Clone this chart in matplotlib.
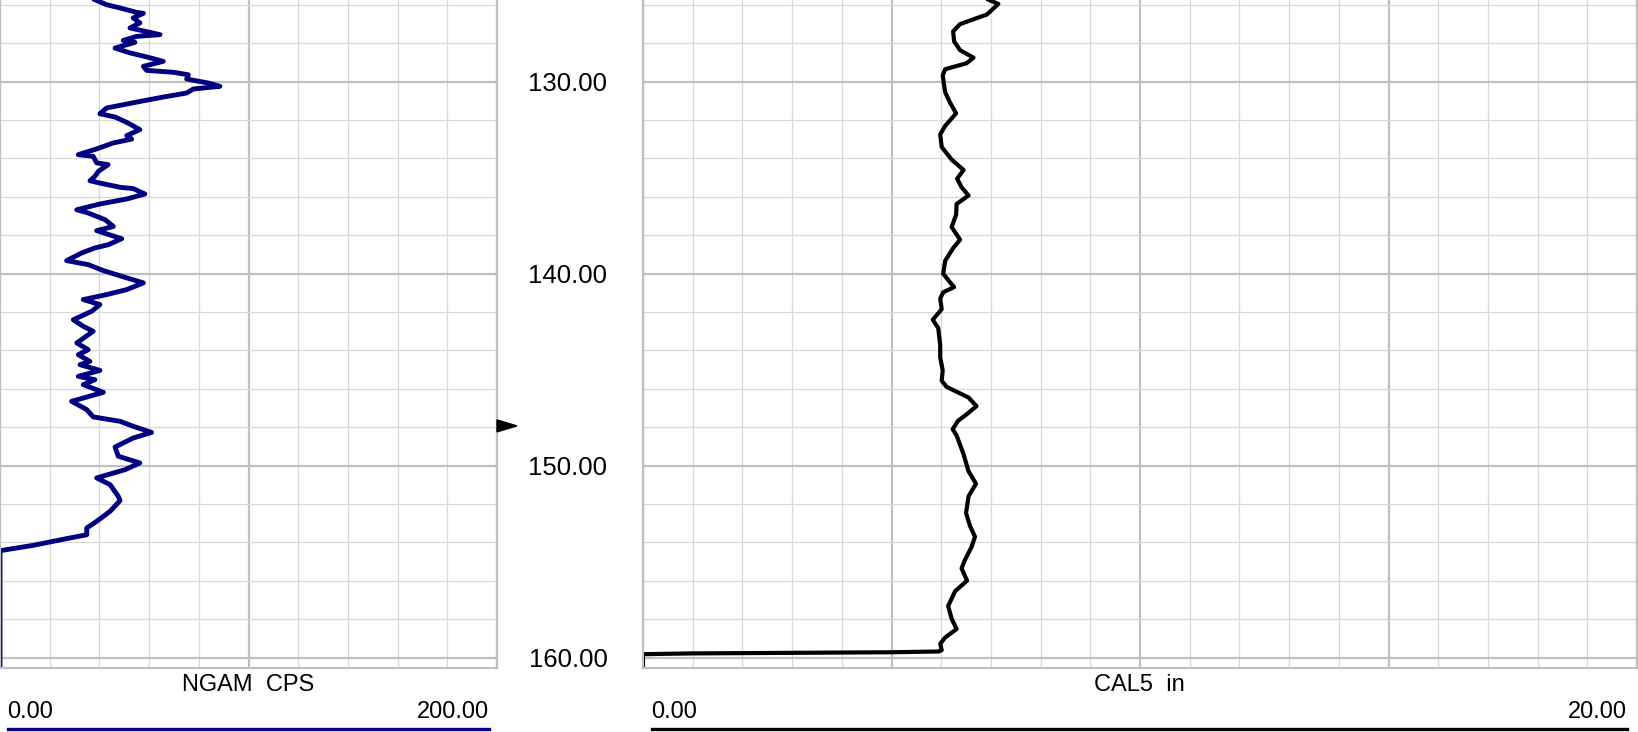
import matplotlib.pyplot as plt
import matplotlib.transforms as mtransforms
from matplotlib.patches import Polygon

plt.rcParams['font.family'] = ['Liberation Sans', 'DejaVu Sans']

# NGAM (CPS) curve: depth, value
ngam_depth = [125.73, 125.99, 126.16, 126.39, 126.44, 126.68, 126.94, 127.20, 127.55, 127.64,
              127.85, 127.95, 128.25, 128.50, 128.71, 128.94, 129.20, 129.41, 129.51, 129.64,
              129.86, 130.07, 130.24, 130.38, 130.59, 130.80, 131.03, 131.20, 131.37, 131.67,
              131.84, 132.12, 132.50, 132.81, 132.99, 133.19, 133.50, 133.80, 133.89, 134.23,
              134.32, 134.67, 134.93, 135.16, 135.28, 135.50, 135.57, 135.85, 136.11, 136.37,
              136.67, 136.84, 137.19, 137.54, 137.76, 138.18, 138.49, 138.66, 138.92, 139.32,
              139.53, 139.84, 140.22, 140.48, 140.83, 141.09, 141.35, 141.61, 141.96, 142.40,
              142.74, 143.00, 143.61, 143.96, 144.22, 144.57, 144.74, 145.04, 145.35, 145.52,
              145.78, 146.18, 146.65, 147.08, 147.46, 147.69, 147.95, 148.27, 148.56, 149.03,
              149.51, 149.86, 150.21, 150.64, 150.99, 151.60, 151.82, 152.38, 152.90, 153.25,
              153.60, 153.80, 154.15, 154.43, 160.60]
ngam_value = [38.2, 42.9, 48.3, 55.0, 57.7, 53.6, 56.3, 52.3, 64.4, 55.0,
              49.6, 54.3, 46.3, 52.3, 59.0, 65.7, 57.7, 59.0, 69.7, 75.8,
              75.1, 83.8, 88.5, 77.8, 75.1, 65.7, 56.3, 49.6, 42.9, 40.2,
              46.3, 51.0, 56.3, 51.0, 53.0, 45.6, 38.9, 31.5, 37.5, 38.9,
              43.5, 39.6, 38.2, 36.2, 40.2, 48.3, 53.6, 58.3, 51.0, 40.2,
              30.9, 35.5, 42.3, 45.6, 38.9, 49.0, 43.6, 38.2, 32.9, 26.8,
              35.5, 41.6, 51.0, 57.7, 51.0, 42.9, 33.5, 40.2, 36.9, 29.5,
              33.5, 37.5, 30.9, 35.5, 31.5, 36.2, 32.2, 40.2, 31.5, 38.2,
              33.5, 41.6, 28.8, 34.9, 37.5, 48.3, 53.6, 61.0, 53.6, 46.3,
              47.6, 56.3, 50.3, 38.9, 44.3, 47.6, 48.3, 44.3, 38.9, 34.9,
              34.9, 26.8, 13.4, 0.0, 0.0]

# CAL5 (in) curve: depth, value
cal_depth = [125.73, 125.95, 126.50, 127.00, 127.38, 127.90, 128.36, 128.75, 129.04, 129.35,
             129.68, 130.55, 131.10, 131.65, 132.30, 132.75, 133.40, 134.06, 134.60, 135.05,
             135.50, 135.93, 136.37, 136.93, 137.57, 138.23, 138.67, 139.33, 140.00, 140.33,
             140.70, 140.97, 141.30, 141.85, 142.40, 142.83, 143.72, 144.37, 145.03, 145.58,
             145.90, 146.45, 146.90, 147.33, 147.66, 148.10, 148.43, 149.41, 150.29, 150.94,
             151.60, 152.47, 153.14, 153.70, 154.24, 154.90, 155.35, 155.99, 156.54, 157.31,
             157.97, 158.51, 158.95, 159.28, 159.61, 159.68, 159.72, 159.78, 159.82, 160.60]
cal_value = [6.95, 7.15, 6.92, 6.38, 6.24, 6.26, 6.38, 6.65, 6.51, 6.08,
             6.03, 6.08, 6.18, 6.30, 6.08, 5.98, 6.01, 6.21, 6.45, 6.32,
             6.41, 6.55, 6.31, 6.30, 6.21, 6.38, 6.24, 6.08, 6.04, 6.14,
             6.26, 6.04, 5.98, 6.01, 5.83, 5.94, 5.98, 5.98, 6.03, 6.01,
             6.11, 6.55, 6.71, 6.51, 6.34, 6.23, 6.31, 6.45, 6.55, 6.70,
             6.55, 6.50, 6.58, 6.68, 6.61, 6.48, 6.41, 6.52, 6.28, 6.14,
             6.21, 6.31, 6.08, 5.98, 6.01, 5.95, 5.00, 1.00, 0.00, 0.00]

depth_labels = [130, 140, 150, 160]
marker_depth = 147.93
depth_top, depth_bottom = 125.745, 160.54

W, H = 1638, 732
fig = plt.figure(figsize=(W / 100, H / 100), dpi=100)

def px(x0, y0, x1, y1):
    # pixel box (top-left origin) -> figure fraction rect
    return [x0 / W, 1 - y1 / H, (x1 - x0) / W, (y1 - y0) / H]

ax1 = fig.add_axes(px(0, 0, 497, 668))
ax2 = fig.add_axes(px(643, 0, 1637, 668))

major_c, minor_c = '#c0c0c0', '#d8d8d8'

for ax, xmax, xminor, xmajor in [(ax1, 200, 20, 100), (ax2, 20, 1, 5)]:
    ax.set_xlim(0, xmax)
    ax.set_ylim(depth_bottom, depth_top)
    ax.set_xticks(range(0, xmax + 1, xmajor))
    ax.set_xticks(range(0, xmax + 1, xminor), minor=True)
    ax.set_yticks(depth_labels)
    ax.set_yticks(range(126, 161, 2), minor=True)
    ax.tick_params(which='both', length=0, labelbottom=False, labelleft=False)
    ax.grid(which='minor', color=minor_c, lw=0.9)
    ax.grid(which='major', color=major_c, lw=1.6)
    ax.set_axisbelow(True)
    ax.spines['top'].set_visible(False)
    for s in ['left', 'right', 'bottom']:
        ax.spines[s].set_color(major_c)
        ax.spines[s].set_linewidth(1.6)

ax1.plot(ngam_value, ngam_depth, color='#000080', lw=3.5, solid_joinstyle='round')
ax2.plot(cal_value, cal_depth, color='black', lw=3.0, solid_joinstyle='round')

# depth labels between the tracks
tr = mtransforms.blended_transform_factory(fig.transFigure, ax2.transData)
tr_lab = mtransforms.offset_copy(tr, fig=fig, y=-2, units='dots')
for d in depth_labels:
    fig.text(568 / W, d, f'{d:.2f}', transform=tr_lab, ha='center', va='center', fontsize=18.5)

# depth pointer
tri = Polygon([(497 / W, marker_depth - 0.31), (497 / W, marker_depth + 0.31),
               (517 / W, marker_depth)], closed=True, transform=tr, color='black', clip_on=False)
fig.add_artist(tri)

# track headers
def header(x0, x1, name, lo, hi, color):
    fig.text((x0 + x1) / 2 / W, 1 - 685 / H, name, ha='center', va='center', fontsize=17)
    fig.text((x0 - 1) / W, 1 - 712 / H, lo, ha='left', va='center', fontsize=17)
    fig.text(x1 / W, 1 - 712 / H, hi, ha='right', va='center', fontsize=17)
    fig.add_artist(plt.Line2D([x0 / W, x1 / W], [1 - 729 / H] * 2, color=color, lw=2.4))

header(8, 489, 'NGAM  CPS', '0.00', '200.00', '#000080')
header(652, 1627, 'CAL5  in', '0.00', '20.00', 'black')

fig.savefig('out.png', dpi=100)
